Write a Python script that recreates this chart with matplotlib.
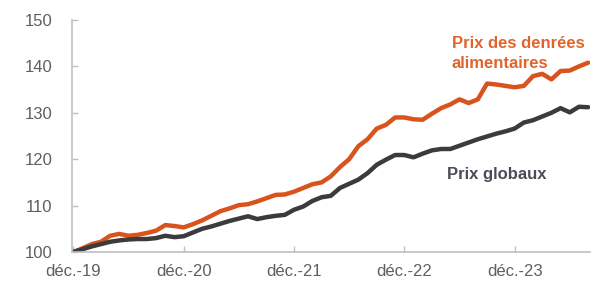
#!/usr/bin/env python3
# -*- coding: utf-8 -*-

"""Prix des denrées alimentaires vs prix globaux (base 100 = déc. 2019)."""

import matplotlib
matplotlib.use("Agg")
import matplotlib.pyplot as plt
import numpy as np

# monthly index, déc.-19 .. août-24
prix_alimentaires = [
    100.0, 100.8, 101.7, 102.2, 103.5, 103.9, 103.5, 103.7, 104.1, 104.6,
    105.8, 105.6, 105.3, 106.0, 106.8, 107.8, 108.8, 109.4, 110.1, 110.3,
    110.9, 111.6, 112.3, 112.4, 113.0, 113.8, 114.6, 115.0, 116.3, 118.3,
    120.0, 122.8, 124.3, 126.6, 127.4, 129.0, 129.0, 128.6, 128.5, 129.8,
    131.0, 131.8, 132.9, 132.1, 132.9, 136.3, 136.1, 135.8, 135.5, 135.8,
    137.9, 138.4, 137.2, 139.0, 139.1, 140.0, 140.8,
]
prix_globaux = [
    100.0, 100.6, 101.2, 101.7, 102.2, 102.5, 102.7, 102.8, 102.8, 103.0,
    103.5, 103.2, 103.4, 104.2, 105.0, 105.5, 106.1, 106.7, 107.2, 107.7,
    107.1, 107.5, 107.8, 108.0, 109.1, 109.8, 111.0, 111.8, 112.1, 113.8,
    114.7, 115.6, 117.0, 118.8, 119.9, 120.9, 120.9, 120.4, 121.2, 121.9,
    122.2, 122.2, 122.9, 123.6, 124.3, 124.9, 125.5, 126.0, 126.6, 127.9,
    128.4, 129.2, 130.0, 131.0, 130.1, 131.3, 131.2,
]
tick_labels = ["déc.-19", "déc.-20", "déc.-21", "déc.-22", "déc.-23"]
y_ticks = [100, 110, 120, 130, 140, 150]
label_alimentaires = ["Prix des denrées", "alimentaires"]
label_globaux = "Prix globaux"

ORANGE = "#d9531c"
ORANGE_TXT = "#e0652c"
DARK = "#3b3b3d"
DARK_TXT = "#4b4c55"
GRID_GREY = "#c0c0c0"
LABEL_GREY = "#5f5f5f"


def main():
    plt.rcParams["font.family"] = ["Liberation Sans", "DejaVu Sans"]
    fig = plt.figure(figsize=(6.03, 2.92), dpi=100)
    ax = fig.add_axes([72 / 603, 1 - 252 / 292, 518 / 603, 232 / 292])

    months = np.arange(len(prix_alimentaires))
    ax.plot(months, prix_alimentaires, color=ORANGE, lw=3.2,
            solid_joinstyle="round", solid_capstyle="round")
    ax.plot(months, prix_globaux, color=DARK, lw=3.2,
            solid_joinstyle="round", solid_capstyle="round")

    ax.set_xlim(-0.15, 56.2)
    ax.set_ylim(100, 150)
    ax.set_xticks(np.arange(0, 12 * len(tick_labels), 12))
    ax.set_xticklabels(tick_labels)
    ax.set_yticks(y_ticks)

    for side in ("top", "right"):
        ax.spines[side].set_visible(False)
    for side in ("left", "bottom"):
        ax.spines[side].set_color(GRID_GREY)
        ax.spines[side].set_linewidth(1.2)
    ax.tick_params(axis="both", direction="in", length=4, width=1,
                   color=GRID_GREY, labelcolor=LABEL_GREY, labelsize=12)
    ax.tick_params(axis="y", pad=14)
    ax.tick_params(axis="x", pad=9)

    # series labels, placed in figure pixels
    for line, y_px in zip(label_alimentaires, (44, 63)):
        fig.text(452 / 603, 1 - y_px / 292, line, color=ORANGE_TXT,
                 fontsize=12, fontweight="bold", ha="left", va="center")
    fig.text(447 / 603, 1 - 175 / 292, label_globaux, color=DARK_TXT,
             fontsize=12, fontweight="bold", ha="left", va="center")

    fig.savefig("out.png", dpi=100)


if __name__ == "__main__":
    main()
